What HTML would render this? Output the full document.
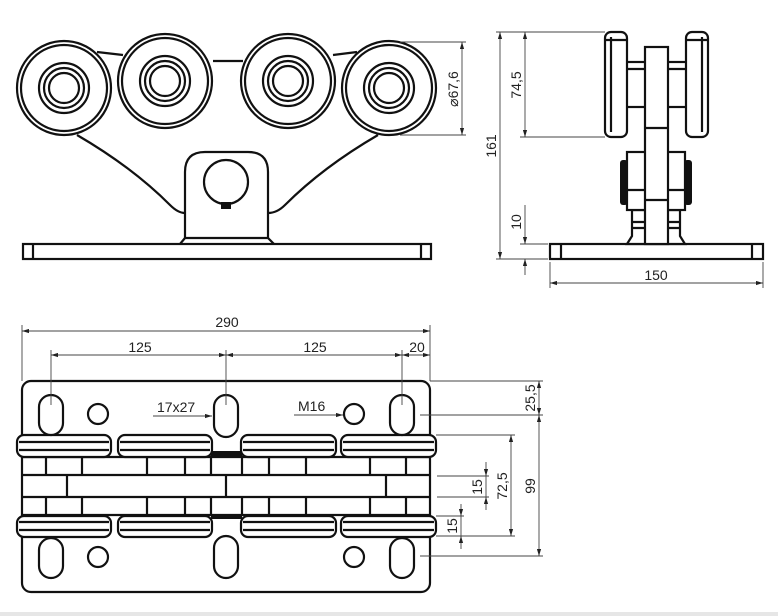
<!DOCTYPE html>
<html><head><meta charset="utf-8"><style>
html,body{margin:0;padding:0;background:#fff;}
svg{display:block;}
text{font-family:"Liberation Sans",sans-serif;font-size:14px;fill:#222;}
.t{stroke:#111;stroke-width:2.2;fill:none;}
.w{stroke:#111;stroke-width:2.2;fill:#fff;}
.d{stroke:#444;stroke-width:0.9;fill:none;}
.a{fill:#222;stroke:none;}
</style></head><body>
<svg width="778" height="616" viewBox="0 0 778 616" xmlns="http://www.w3.org/2000/svg">
<defs>
<marker id="ar" viewBox="0 0 10 6" refX="10" refY="3" markerWidth="8" markerHeight="5" orient="auto-start-reverse"><path d="M0,0 L10,3 L0,6z" fill="#222"/></marker>
</defs>

<!-- ===== FRONT VIEW ===== -->
<path class="t" d="M77,135 C120,160 150,185 170,205 Q178,213 185,213"/>
<path class="t" d="M378,135 C335,160 305,185 285,205 Q277,213 268,213"/>
<line class="t" x1="97" y1="52" x2="123" y2="55"/>
<line class="t" x1="213" y1="61" x2="243" y2="61"/>
<line class="t" x1="333" y1="55" x2="357" y2="52"/>
<path class="w" d="M185,238 L185,172 Q185,152 205,152 L248,152 Q268,152 268,172 L268,238"/>
<path class="t" d="M180,244 L185,238 L268,238 L274,244"/>
<circle class="t" cx="226" cy="182" r="22" stroke-width="3.5"/>
<rect x="221" y="202" width="10" height="7" fill="#111"/>
<rect class="w" x="23" y="244" width="408" height="15"/>
<line class="t" x1="33" y1="244" x2="33" y2="259"/>
<line class="t" x1="421" y1="244" x2="421" y2="259"/>
<g>
 <g transform="translate(64,88)"><circle class="w" r="47" stroke-width="2.6"/><circle class="t" r="43" stroke-width="2.6"/><circle class="t" r="25" stroke-width="3.5"/><circle class="t" r="20" stroke-width="2.6"/><circle class="t" r="15" stroke-width="3.5"/></g>
 <g transform="translate(165,81)"><circle class="w" r="47" stroke-width="2.6"/><circle class="t" r="43" stroke-width="2.6"/><circle class="t" r="25" stroke-width="3.5"/><circle class="t" r="20" stroke-width="2.6"/><circle class="t" r="15" stroke-width="3.5"/></g>
 <g transform="translate(288,81)"><circle class="w" r="47" stroke-width="2.6"/><circle class="t" r="43" stroke-width="2.6"/><circle class="t" r="25" stroke-width="3.5"/><circle class="t" r="20" stroke-width="2.6"/><circle class="t" r="15" stroke-width="3.5"/></g>
 <g transform="translate(389,88)"><circle class="w" r="47" stroke-width="2.6"/><circle class="t" r="43" stroke-width="2.6"/><circle class="t" r="25" stroke-width="3.5"/><circle class="t" r="20" stroke-width="2.6"/><circle class="t" r="15" stroke-width="3.5"/></g>
</g>
<line class="d" x1="400" y1="42" x2="466" y2="42"/>
<line class="d" x1="400" y1="135" x2="466" y2="135"/>
<line class="d" x1="462" y1="42" x2="462" y2="135" marker-start="url(#ar)" marker-end="url(#ar)"/>
<text transform="translate(458,89) rotate(-90)" text-anchor="middle">⌀67,6</text>

<!-- ===== SIDE VIEW ===== -->
<rect class="w" x="550" y="244" width="213" height="15"/>
<line class="t" x1="561" y1="244" x2="561" y2="259"/>
<line class="t" x1="752" y1="244" x2="752" y2="259"/>
<path class="w" d="M627,244 L632,236 L632,210 L680,210 L680,236 L685,244z"/>
<line class="t" x1="632" y1="222" x2="680" y2="222"/>
<line class="t" x1="632" y1="228" x2="680" y2="228"/>
<rect x="620" y="160" width="8" height="45" rx="3" fill="#111"/>
<rect x="684" y="160" width="8" height="45" rx="3" fill="#111"/>
<rect class="w" x="627" y="152" width="58" height="58"/>
<line class="t" x1="627" y1="190" x2="685" y2="190"/>
<rect class="w" x="625" y="62" width="62" height="45"/>
<line class="t" x1="625" y1="69" x2="687" y2="69"/>
<rect class="w" x="645" y="47" width="23" height="197"/>
<line class="t" x1="645" y1="200" x2="668" y2="200"/>
<line class="t" x1="645" y1="128" x2="668" y2="128"/>
<rect class="w" x="605" y="32" width="22" height="105" rx="6"/>
<line class="t" x1="611" y1="37" x2="611" y2="132"/><line class="t" x1="605" y1="40" x2="627" y2="40"/>
<rect class="w" x="686" y="32" width="22" height="105" rx="6"/>
<line class="t" x1="702" y1="37" x2="702" y2="132"/><line class="t" x1="686" y1="40" x2="708" y2="40"/>
<!-- dims -->
<line class="d" x1="496" y1="32" x2="605" y2="32"/>
<line class="d" x1="520" y1="137" x2="605" y2="137"/>
<line class="d" x1="496" y1="259" x2="548" y2="259"/>
<line class="d" x1="520" y1="244" x2="548" y2="244"/>
<line class="d" x1="500" y1="32" x2="500" y2="259" marker-start="url(#ar)" marker-end="url(#ar)"/>
<text transform="translate(496,146) rotate(-90)" text-anchor="middle">161</text>
<line class="d" x1="525" y1="32" x2="525" y2="137" marker-start="url(#ar)" marker-end="url(#ar)"/>
<text transform="translate(521,85) rotate(-90)" text-anchor="middle">74,5</text>
<line class="d" x1="525" y1="205" x2="525" y2="244" marker-end="url(#ar)"/>
<line class="d" x1="525" y1="275" x2="525" y2="259" marker-end="url(#ar)"/>
<text transform="translate(521,222) rotate(-90)" text-anchor="middle">10</text>
<line class="d" x1="550" y1="262" x2="550" y2="288"/>
<line class="d" x1="763" y1="262" x2="763" y2="288"/>
<line class="d" x1="550" y1="283" x2="763" y2="283" marker-start="url(#ar)" marker-end="url(#ar)"/>
<text x="656" y="280" text-anchor="middle">150</text>

<!-- ===== TOP VIEW ===== -->
<rect class="w" x="22" y="381" width="408" height="211" rx="9"/>
<line class="t" x1="22" y1="457" x2="430" y2="457"/>
<line class="t" x1="22" y1="475" x2="430" y2="475"/>
<line class="t" x1="22" y1="497" x2="430" y2="497"/>
<line class="t" x1="22" y1="515" x2="430" y2="515"/>
<g class="t">
<path d="M46,457V475M82,457V475M147,457V475M185,457V475M211,457V475M242,457V475M269,457V475M306,457V475M370,457V475M406,457V475"/>
<path d="M46,497V515M82,497V515M147,497V515M185,497V515M211,497V515M242,497V515M269,497V515M306,497V515M370,497V515M406,497V515"/>
<path d="M67,475V497M226,475V497M386,475V497"/>
</g>
<rect x="211" y="451" width="31" height="7" fill="#111"/>
<rect x="211" y="514" width="31" height="5" fill="#111"/>
<g>
<rect class="w" x="17" y="435" width="94" height="22" rx="7"/><line class="t" x1="19" y1="442" x2="109" y2="442"/><line class="t" x1="19" y1="450" x2="109" y2="450"/>
<rect class="w" x="118" y="435" width="94" height="22" rx="7"/><line class="t" x1="120" y1="442" x2="210" y2="442"/><line class="t" x1="120" y1="450" x2="210" y2="450"/>
<rect class="w" x="241" y="435" width="95" height="22" rx="7"/><line class="t" x1="243" y1="442" x2="334" y2="442"/><line class="t" x1="243" y1="450" x2="334" y2="450"/>
<rect class="w" x="341" y="435" width="95" height="22" rx="7"/><line class="t" x1="343" y1="442" x2="434" y2="442"/><line class="t" x1="343" y1="450" x2="434" y2="450"/>
<rect class="w" x="17" y="516" width="94" height="21" rx="7"/><line class="t" x1="19" y1="522" x2="109" y2="522"/><line class="t" x1="19" y1="530" x2="109" y2="530"/>
<rect class="w" x="118" y="516" width="94" height="21" rx="7"/><line class="t" x1="120" y1="522" x2="210" y2="522"/><line class="t" x1="120" y1="530" x2="210" y2="530"/>
<rect class="w" x="241" y="516" width="95" height="21" rx="7"/><line class="t" x1="243" y1="522" x2="334" y2="522"/><line class="t" x1="243" y1="530" x2="334" y2="530"/>
<rect class="w" x="341" y="516" width="95" height="21" rx="7"/><line class="t" x1="343" y1="522" x2="434" y2="522"/><line class="t" x1="343" y1="530" x2="434" y2="530"/>
</g>
<rect class="w" x="39" y="395" width="24" height="40" rx="12"/>
<rect class="w" x="214" y="395" width="24" height="42" rx="12"/>
<rect class="w" x="390" y="395" width="24" height="40" rx="12"/>
<rect class="w" x="39" y="538" width="24" height="40" rx="12"/>
<rect class="w" x="214" y="536" width="24" height="42" rx="12"/>
<rect class="w" x="390" y="538" width="24" height="40" rx="12"/>
<circle class="t" cx="98" cy="414" r="10"/>
<circle class="t" cx="354" cy="414" r="10"/>
<circle class="t" cx="98" cy="557" r="10"/>
<circle class="t" cx="354" cy="557" r="10"/>
<line class="d" x1="153" y1="416" x2="212" y2="416" marker-end="url(#ar)"/>
<text x="157" y="412">17x27</text>
<line class="d" x1="294" y1="415" x2="343" y2="415" marker-end="url(#ar)"/>
<text x="298" y="411">M16</text>
<line class="d" x1="22" y1="325" x2="22" y2="381"/>
<line class="d" x1="430" y1="325" x2="430" y2="381"/>
<line class="d" x1="51" y1="350" x2="51" y2="405"/>
<line class="d" x1="226" y1="350" x2="226" y2="405"/>
<line class="d" x1="402" y1="350" x2="402" y2="405"/>
<line class="d" x1="22" y1="331" x2="430" y2="331" marker-start="url(#ar)" marker-end="url(#ar)"/>
<text x="227" y="327" text-anchor="middle">290</text>
<line class="d" x1="51" y1="355" x2="226" y2="355" marker-start="url(#ar)" marker-end="url(#ar)"/>
<line class="d" x1="226" y1="355" x2="402" y2="355" marker-start="url(#ar)" marker-end="url(#ar)"/>
<line class="d" x1="402" y1="355" x2="430" y2="355" marker-start="url(#ar)" marker-end="url(#ar)"/>
<text x="140" y="352" text-anchor="middle">125</text>
<text x="315" y="352" text-anchor="middle">125</text>
<text x="417" y="352" text-anchor="middle">20</text>
<line class="d" x1="430" y1="381" x2="543" y2="381"/>
<line class="d" x1="420" y1="415" x2="543" y2="415"/>
<line class="d" x1="420" y1="556" x2="543" y2="556"/>
<line class="d" x1="436" y1="435" x2="515" y2="435"/>
<line class="d" x1="436" y1="536" x2="515" y2="536"/>
<line class="d" x1="437" y1="476" x2="489" y2="476"/>
<line class="d" x1="437" y1="497" x2="489" y2="497"/>
<line class="d" x1="436" y1="516" x2="464" y2="516"/>
<line class="d" x1="539" y1="381" x2="539" y2="415" marker-start="url(#ar)" marker-end="url(#ar)"/>
<text transform="translate(535,398) rotate(-90)" text-anchor="middle">25,5</text>
<line class="d" x1="539" y1="415" x2="539" y2="556" marker-start="url(#ar)" marker-end="url(#ar)"/>
<text transform="translate(535,486) rotate(-90)" text-anchor="middle">99</text>
<line class="d" x1="511" y1="435" x2="511" y2="536" marker-start="url(#ar)" marker-end="url(#ar)"/>
<text transform="translate(507,486) rotate(-90)" text-anchor="middle">72,5</text>
<line class="d" x1="486" y1="462" x2="486" y2="476" marker-end="url(#ar)"/>
<line class="d" x1="486" y1="510" x2="486" y2="497" marker-end="url(#ar)"/>
<line class="d" x1="486" y1="476" x2="486" y2="497"/>
<text transform="translate(482,487) rotate(-90)" text-anchor="middle">15</text>
<line class="d" x1="461" y1="504" x2="461" y2="516" marker-end="url(#ar)"/>
<line class="d" x1="461" y1="549" x2="461" y2="536" marker-end="url(#ar)"/>
<line class="d" x1="461" y1="516" x2="461" y2="536"/>
<text transform="translate(457,526) rotate(-90)" text-anchor="middle">15</text>

<rect x="0" y="612" width="778" height="4" fill="#e6e6e6"/>
</svg>
</body></html>
